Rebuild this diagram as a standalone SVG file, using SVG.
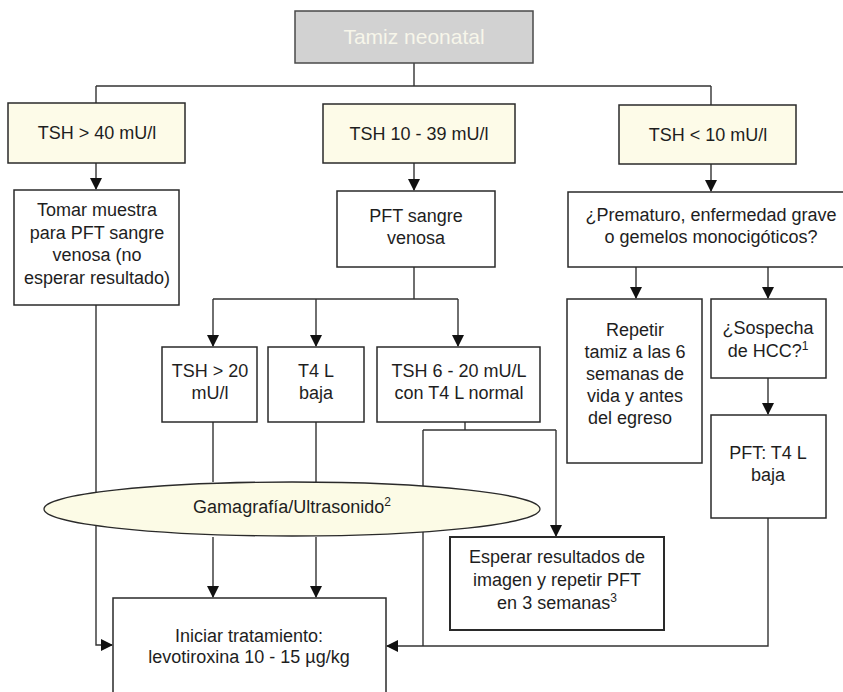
<svg xmlns="http://www.w3.org/2000/svg" width="843" height="692" viewBox="0 0 843 692">
<defs>
<marker id="ah" markerWidth="12" markerHeight="12" refX="11" refY="6" orient="auto" markerUnits="userSpaceOnUse">
<path d="M0,0 L12,6 L0,12 Z" fill="#111"/>
</marker>
<style>
.box{fill:#fff;stroke:#2a2a2a;stroke-width:1.5}
.cream{fill:#fdfbe8;stroke:#2a2a2a;stroke-width:1.5}
.t{font-family:"Liberation Sans",Arial,Helvetica,sans-serif;font-size:18px;fill:#1e1e1e;text-anchor:middle}
.sup{font-size:12px}
.ln{fill:none;stroke:#333;stroke-width:1.4}
.arr{fill:none;stroke:#333;stroke-width:1.4;marker-end:url(#ah)}
</style>
</defs>
<rect width="843" height="692" fill="#fff"/>

<g id="connectors">
<path class="ln" d="M414,63 V86 M96,86 H711 M96,86 V103"/>
<path class="ln" d="M711,86 V105"/>
<path class="arr" d="M96,163 V189"/>
<path class="arr" d="M414,163 V190"/>
<path class="arr" d="M711,164 V191"/>
<path class="ln" d="M414,267 V299 M213,299 H458"/>
<path class="arr" d="M213,299 V346"/>
<path class="arr" d="M316,299 V346"/>
<path class="arr" d="M458,299 V346"/>
<path class="ln" d="M213,422 V482 M316,422 V482"/>
<path class="arr" d="M213,537 V597"/>
<path class="arr" d="M316,537 V597"/>
<path class="arr" d="M96,305 V645 H112"/>
<path class="ln" d="M465,422 V430 M423,430 H556 M423,430 V646"/>
<path class="arr" d="M556,430 V536"/>
<path class="arr" d="M636,267 V298"/>
<path class="arr" d="M768,267 V298"/>
<path class="arr" d="M768,378 V414"/>
<path class="arr" d="M768,518 V646 H387"/>
</g>

<g id="tamiz">
<rect x="295" y="11" width="238" height="52" fill="#d2d2d2" stroke="#4a4a4a" stroke-width="1.5"/>
<text class="t" x="414" y="44" style="font-size:21px;fill:#f7f6ea">Tamiz neonatal</text>
</g>

<g id="tsh40">
<rect class="cream" x="8" y="103" width="177" height="60"/>
<text class="t" x="97" y="139">TSH &gt; 40 mU/l</text>
</g>

<g id="tsh1039">
<rect class="cream" x="323" y="104" width="192" height="59"/>
<text class="t" x="419" y="140">TSH 10 - 39 mU/l</text>
</g>

<g id="tsh10">
<rect class="cream" x="619" y="105" width="177" height="59"/>
<text class="t" x="708" y="141">TSH &lt; 10 mU/l</text>
</g>

<g id="tomar">
<rect class="box" x="14" y="190" width="165" height="115"/>
<text class="t" x="97" y="216">Tomar muestra</text>
<text class="t" x="97" y="239">para PFT sangre</text>
<text class="t" x="97" y="261">venosa (no</text>
<text class="t" x="97" y="284">esperar resultado)</text>
</g>

<g id="pft">
<rect class="box" x="337" y="191" width="158" height="76"/>
<text class="t" x="416" y="222">PFT sangre</text>
<text class="t" x="416" y="244">venosa</text>
</g>

<g id="prematuro">
<rect class="box" x="568" y="192" width="280" height="75"/>
<text class="t" x="711" y="221">¿Prematuro, enfermedad grave</text>
<text class="t" x="711" y="243">o gemelos monocigóticos?</text>
</g>

<g id="tsh20">
<rect class="box" x="162" y="347" width="95" height="75"/>
<text class="t" x="210" y="377">TSH &gt; 20</text>
<text class="t" x="210" y="399">mU/l</text>
</g>

<g id="t4lbaja">
<rect class="box" x="268" y="347" width="96" height="75"/>
<text class="t" x="316" y="377">T4 L</text>
<text class="t" x="316" y="399">baja</text>
</g>

<g id="tsh620">
<rect class="box" x="377" y="347" width="163" height="75"/>
<text class="t" x="459" y="377">TSH 6 - 20 mU/L</text>
<text class="t" x="459" y="399">con T4 L normal</text>
</g>

<g id="repetir">
<rect class="box" x="567" y="299" width="135" height="164"/>
<text class="t" x="635" y="336">Repetir</text>
<text class="t" x="635" y="358">tamiz a las 6</text>
<text class="t" x="635" y="380">semanas de</text>
<text class="t" x="635" y="402">vida y antes</text>
<text class="t" x="630" y="424">del egreso</text>
</g>

<g id="sospecha">
<rect class="box" x="711" y="299" width="115" height="79"/>
<text class="t" x="768" y="334">¿Sospecha</text>
<text class="t" x="768" y="357">de HCC?<tspan class="sup" baseline-shift="super">1</tspan></text>
</g>

<g id="pftbaja">
<rect class="box" x="711" y="415" width="115" height="103"/>
<text class="t" x="768" y="459">PFT: T4 L</text>
<text class="t" x="768" y="481">baja</text>
</g>

<g id="gamagrafia">
<ellipse cx="292" cy="509" rx="248" ry="27" fill="#fcfbe6" stroke="#2a2a2a" stroke-width="1.3"/>
<text class="t" x="292" y="513">Gamagrafía/Ultrasonido<tspan class="sup" baseline-shift="super">2</tspan></text>
</g>

<g id="esperar">
<rect class="box" x="450" y="537" width="214" height="93" style="stroke-width:2"/>
<text class="t" x="557" y="563">Esperar resultados de</text>
<text class="t" x="557" y="586">imagen y repetir PFT</text>
<text class="t" x="557" y="609">en 3 semanas<tspan class="sup" baseline-shift="super">3</tspan></text>
</g>

<g id="iniciar">
<rect class="box" x="113" y="598" width="273" height="110"/>
<text class="t" x="249" y="642">Iniciar tratamiento:</text>
<text class="t" x="249" y="663">levotiroxina 10 - 15 µg/kg</text>
</g>
</svg>
